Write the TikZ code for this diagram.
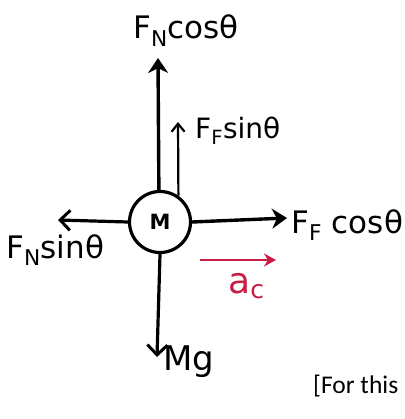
\documentclass[tikz,border=0pt]{standalone}
\usepackage{fontspec}
\setmainfont{DejaVu Sans}
\newfontfamily\notefont{Carlito}
\usetikzlibrary{arrows.meta}
\definecolor{accred}{RGB}{200,30,70}
\tikzset{
  force/.style={line width=3.4pt, -{Stealth[length=15pt,width=20pt]}},
  thinforce/.style={line width=2.2pt, -{Straight Barb[length=8pt,width=13pt,line width=2.2pt]}},
  barbforce/.style={line width=3.2pt, -{Straight Barb[length=10pt,width=20pt,line width=3pt]}},
  lbl/.style={inner sep=0pt, font=\fontsize{31}{33}\selectfont},
  mass/.style={circle, draw, line width=3.2pt, minimum size=61pt, inner sep=0pt, font=\fontsize{21}{23}\selectfont\bfseries},
}
\begin{document}
\begin{tikzpicture}[x=1pt,y=-1pt]
\useasboundingbox (0,0) rectangle (404,419);
\node[mass] (M) at (160,222) {M};
% tips
\coordinate (up) at (158,58);
\coordinate (upF) at (178,122);
\coordinate (lt) at (58,220);
\coordinate (rt) at (287,218);
\coordinate (dn) at (157,357);
\coordinate (a0) at (200,260);
\coordinate (a1) at (276,260);
% arrows
\draw[force] (M.92) -- (up);
\draw[thinforce] (M.55) -- (upF);
\draw[barbforce] (M.west) -- (lt);
\draw[force] (M.east) -- (rt);
\draw[barbforce] (M.south) -- (dn);
\draw[accred, line width=2.8pt, -{Stealth[length=12pt,width=13pt]}] (a0) -- (a1);
% labels
\node[lbl, anchor=base west] (lFNc) at (133,39) {F\textsubscript{N}cosθ};
\node[lbl, anchor=base west, font=\fontsize{28}{30}\selectfont] (lFFs) at (195,139) {F\textsubscript{F}sinθ};
\node[lbl, anchor=base west] (lFNs) at (6,258) {F\textsubscript{N}sinθ};
\node[lbl, anchor=base west] (lFFc) at (291,233) {F\textsubscript{F} cosθ};
\node[lbl, anchor=base west, font=\fontsize{34}{36}\selectfont] (lMg) at (163,370) {Mg};
\node[lbl, anchor=base west, text=accred, font=\fontsize{36}{38}\selectfont] (lac) at (228,293) {a\textsubscript{c}};
\node[inner sep=0pt, anchor=base west, font=\notefont\fontsize{25.5}{28}\selectfont] (note) at (313,393) {[For this};
\end{tikzpicture}
\end{document}
